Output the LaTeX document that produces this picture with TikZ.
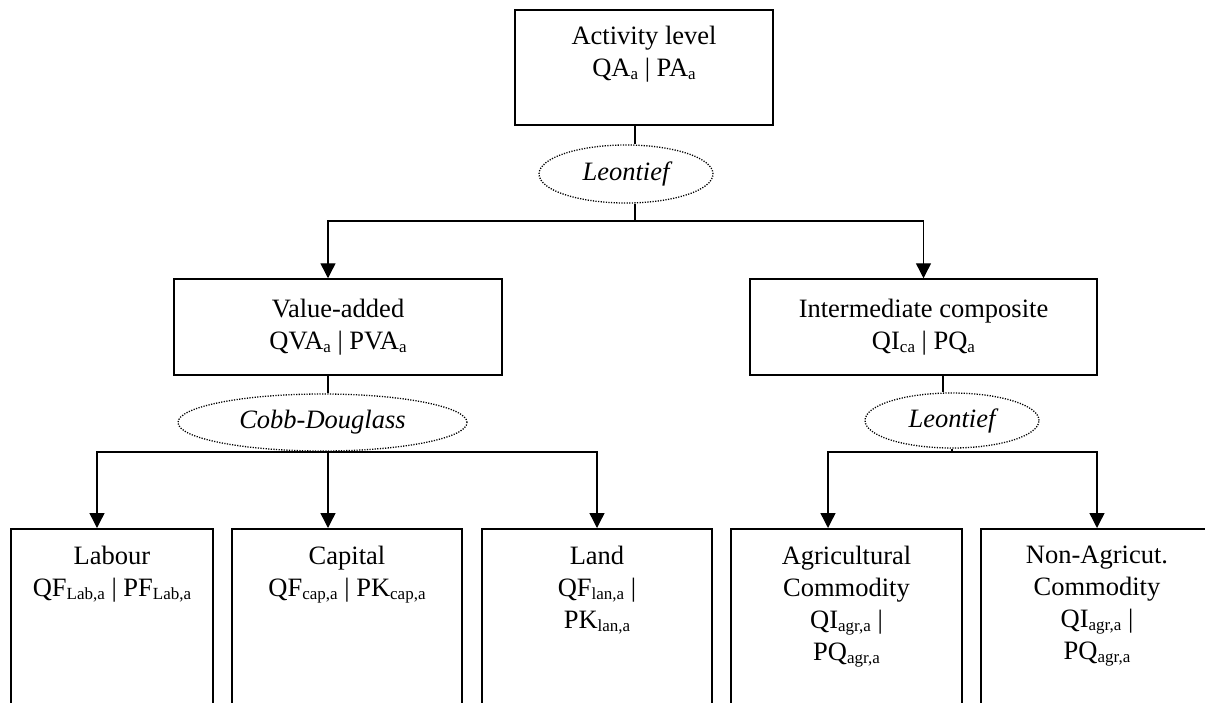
\documentclass[tikz,border=0pt]{standalone}
\usepackage{fontspec}
\setmainfont{Liberation Serif}
\usepackage{tikz}
\usetikzlibrary{shapes.geometric}
\usetikzlibrary{arrows.meta}
\usetikzlibrary{positioning}
\newcommand{\diagfont}{\fontsize{26.5}{32}\selectfont}
\newcommand{\subidx}[1]{\raisebox{-3pt}{\fontsize{17}{17}\selectfont #1}}
\tikzset{
  main box/.style={rectangle,draw,line width=1.5pt,inner sep=0pt,align=center},
  input box/.style={rectangle,draw,line width=1.5pt,inner sep=0pt,anchor=north,minimum height=200pt},
  box text/.style={align=center,inner sep=0pt},
  nest fn/.style={ellipse,draw,line width=1.3pt,dash pattern=on 1.2pt off 1.4pt,inner sep=0pt,font=\diagfont\itshape},
  link/.style={line width=1.4pt}
}
\begin{document}
\begin{tikzpicture}[>={Triangle[width=15pt,length=15pt]},x=1pt,y=-1pt,font=\diagfont]

	    \useasboundingbox (0,0) rectangle (1205,702);
	    \clip (0,0) rectangle (1205,702);

	    \node[main box,minimum width=258pt,minimum height=115pt] (activity) at (644,67.5) {};
	    \node[box text,below=17pt of activity.north] (activity-txt) {Activity level\\QA\subidx{a} | PA\subidx{a}};

	    \node[nest fn,minimum width=174pt,minimum height=58pt] (leon1) at (626,174) {Leontief};

	    \node[main box,minimum width=328pt,minimum height=96pt] (valadd) at (338,327) {Value-added\\QVA\subidx{a} | PVA\subidx{a}};
	    \node[main box,minimum width=347pt,minimum height=96pt] (interm) at (923.5,327) {Intermediate composite\\QI\subidx{ca} | PQ\subidx{a}};

	    \node[nest fn,minimum width=289pt,minimum height=57pt] (cobb) at (322.5,422.5) {Cobb-Douglass};
	    \node[nest fn,minimum width=174pt,minimum height=55pt] (leon2) at (952,420.5) {Leontief};

	    \node[input box,minimum width=202pt] (labour) at (112,528) {};
	    \node[box text,below=18pt of labour.north] (labour-txt) {Labour\\QF\subidx{Lab,a} | PF\subidx{Lab,a}};
	    \node[input box,minimum width=230pt] (capital) at (347,528) {};
	    \node[box text,below=18pt of capital.north] (capital-txt) {Capital\\QF\subidx{cap,a} | PK\subidx{cap,a}};
	    \node[input box,minimum width=230pt] (land) at (597,528) {};
	    \node[box text,below=18pt of land.north] (land-txt) {Land\\QF\subidx{lan,a} |\\PK\subidx{lan,a}};
	    \node[input box,minimum width=231pt] (agric) at (846.5,528) {};
	    \node[box text,below=18pt of agric.north] (agric-txt) {Agricultural\\Commodity\\QI\subidx{agr,a} |\\PQ\subidx{agr,a}};
	    \node[input box,minimum width=232pt] (nonagric) at (1097,528) {};
	    \node[box text,below=18pt of nonagric.north] (nonagric-txt) {Non-Agricut.\\Commodity\\QI\subidx{agr,a} |\\PQ\subidx{agr,a}};

	    \coordinate (actout) at ([xshift=-9pt]activity.south);
	    \coordinate (fork1) at (635,221);
	    \coordinate (vaout) at ([xshift=-10pt]valadd.south);
	    \coordinate (vain) at ([xshift=-10pt]valadd.north);
	    \coordinate (intout) at ([xshift=19.5pt]interm.south);
	    \coordinate (fork2) at (328,452);
	    \coordinate (fork3) at (952,452);

	    \draw[link] (actout) -- (actout |- leon1.north);
	    \draw[link] (leon1.south -| fork1) -- (fork1);
	    \draw[link,->] (fork1) -| (vain);
	    \draw[link,->] (fork1) -| (interm.north);
	    \draw[link] (vaout) -- (vaout |- cobb.north);
	    \draw[link] (intout) -- (intout |- leon2.north);
	    \draw[link] (cobb.south) |- (fork2);
	    \draw[link,->] (fork2) -| ([xshift=-15pt]labour.north);
	    \draw[link,->] (fork2) -- (fork2 |- capital.north);
	    \draw[link,->] (fork2) -| (land.north);
	    \draw[link] (leon2) -- (fork3);
	    \draw[link,->] (fork3) -| ([xshift=-18.5pt]agric.north);
	    \draw[link,->] (fork3) -| (nonagric.north);
\end{tikzpicture}
\end{document}
